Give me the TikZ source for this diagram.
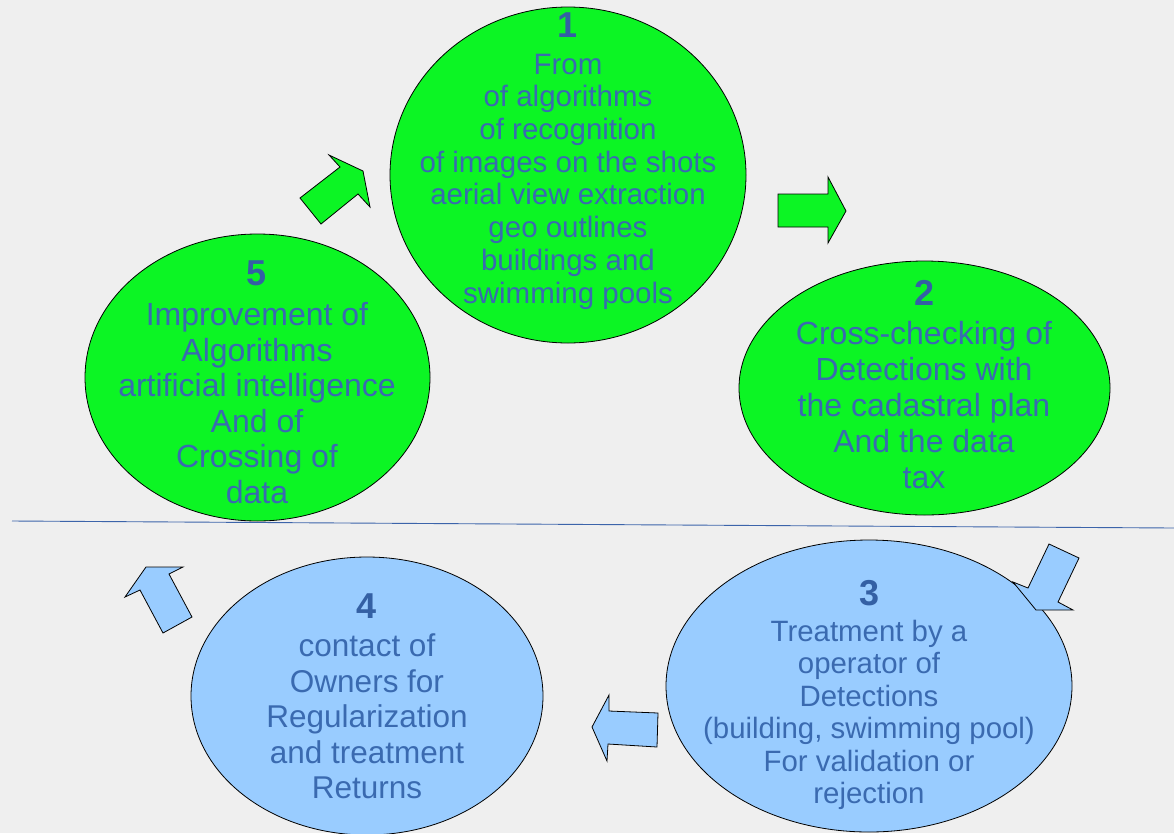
\documentclass[tikz,border=0pt]{standalone}
\usepackage{fontspec}
\setmainfont{Liberation Sans}
\definecolor{bg}{RGB}{239,239,239}
\definecolor{gfill}{RGB}{12,245,36}
\definecolor{bfill}{RGB}{153,204,255}
\definecolor{txt}{RGB}{58,106,176}
\definecolor{numc}{RGB}{52,96,164}
\definecolor{linec}{RGB}{60,100,170}
\begin{document}
\begin{tikzpicture}[x=1pt,y=-1pt,
  bubble/.style={draw=black,line width=0.8pt},
  arr/.style={draw=black,line width=0.8pt,line join=miter},
  num/.style={font=\fontsize{36}{36}\selectfont\bfseries,text=numc,inner sep=0pt},
  body/.style={align=center,text=txt,inner sep=0pt}]
\clip (0,0) rectangle (1174,833);
\fill[bg] (0,0) rectangle (1174,833);
% divider line
\coordinate (la) at (12,521);
\coordinate (lb) at (1174,528);
\draw[linec,line width=0.9pt] (la) -- (lb);
% ellipses
\draw[bubble,fill=gfill] (568,175) ellipse [x radius=178,y radius=168];
\draw[bubble,fill=gfill] (924.5,388) ellipse [x radius=185.5,y radius=127];
\draw[bubble,fill=gfill] (257.5,377.5) ellipse [x radius=172.5,y radius=143.5];
\draw[bubble,fill=bfill] (869,686) ellipse [x radius=203,y radius=146];
\draw[bubble,fill=bfill] (367,696) ellipse [x radius=176,y radius=139];
% arrows
\draw[arr,fill=gfill] (300,198) -- (340,167) -- (329,155) -- (363,171) -- (370,207) -- (358,194) -- (321,224) -- cycle;
\draw[arr,fill=gfill] (778,194) -- (828,194) -- (828,177) -- (846,211) -- (828,243) -- (828,227) -- (778,227) -- cycle;
\draw[arr,fill=bfill] (1049,544) -- (1079,558) -- (1058,602) -- (1073,610) -- (1036,610) -- (1013,582) -- (1028,588) -- cycle;
\draw[arr,fill=bfill] (658,713) -- (609,711) -- (609,695) -- (592,727) -- (607,761) -- (608,744) -- (657,747) -- cycle;
\draw[arr,fill=bfill] (163,633) -- (140,590) -- (125,597) -- (146,567) -- (183,567) -- (169,574) -- (192,617) -- cycle;
% texts
\node[num] (n1) at (568,25) {1};
\node[body,font=\fontsize{29.5}{32.7}\selectfont] (t1) at (568,181.5) {From\\of algorithms\\of recognition\\of images on the shots\\aerial view extraction\\geo outlines\\buildings and\\swimming pools};
\node[num] (n2) at (924,293) {2};
\node[body,font=\fontsize{32}{36}\selectfont] (t2) at (924,405) {Cross-checking of\\Detections with\\the cadastral plan\\And the data\\tax};
\node[num] (n5) at (257,273) {5};
\node[body,font=\fontsize{32}{35.6}\selectfont] (t5) at (257,403) {Improvement of\\Algorithms\\artificial intelligence\\And of\\Crossing of\\data};
\node[num] (n3) at (869,593) {3};
\node[body,font=\fontsize{29.4}{32.5}\selectfont] (t3) at (869,715) {Treatment by a\\operator of\\Detections\\(building, swimming pool)\\For validation or\\rejection};
\node[num] (n4) at (367,606) {4};
\node[body,font=\fontsize{31.5}{35.5}\selectfont] (t4) at (367,716.5) {contact of\\Owners for\\Regularization\\and treatment\\Returns};
\end{tikzpicture}
\end{document}
